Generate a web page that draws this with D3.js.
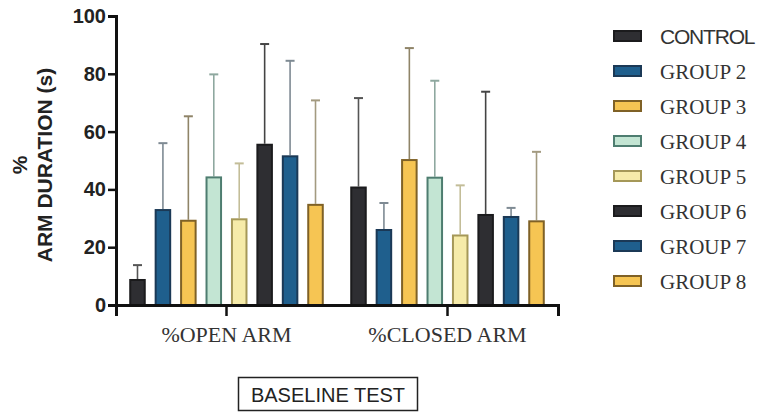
<!DOCTYPE html>
<html>
<head>
<meta charset="utf-8">
<script src="https://cdn.jsdelivr.net/npm/d3@7"></script>
<style>
  body { margin: 0; background: #fff; }
  svg { display: block; }
</style>
</head>
<body>
<div id="chart"></div>
<script>
// data
var categories = ['%OPEN ARM', '%CLOSED ARM'];
var groups = ['CONTROL', 'GROUP 2', 'GROUP 3', 'GROUP 4', 'GROUP 5', 'GROUP 6', 'GROUP 7', 'GROUP 8'];

// means, one array per category, in group order
var openMeans   = [9, 33.2, 29.5, 44.5, 30, 55.8, 51.8, 35];
var closedMeans = [41, 26.3, 50.5, 44.4, 24.4, 31.5, 30.8, 29.3];

// top of the (one sided) error bar
var openErrTop   = [13.8, 56, 65.3, 79.8, 49, 90.3, 84.5, 70.8];
var closedErrTop = [71.6, 35.3, 88.9, 77.6, 41.4, 73.8, 33.6, 53];

var yTicks = [0, 20, 40, 60, 80, 100];

var fills   = ['#2e2e32', '#1f5f8d', '#f6c553', '#c3e5d3', '#f6eba9', '#2e2e32', '#1f5f8d', '#f6c553'];
var strokes = ['#1b1b1d', '#1b3956', '#7f6126', '#4e7d70', '#a59858', '#1b1b1d', '#1b3956', '#7f6126'];
var errCols = ['#555', '#7e8a93', '#8f8468', '#8ea89f', '#c3bd98', '#444', '#7e8a93', '#a39a80'];

var width = 758;
var height = 413;

var svg = d3.select('#chart')
  .append('svg')
  .attr('width', width)
  .attr('height', height)
  ;

svg.append('rect')
  .attr('width', width)
  .attr('height', height)
  .attr('fill', '#fff');

var pad = { left: 116, right: 200, top: 16, bottom: 108 };

var y_scale = d3.scaleLinear()
  .domain([0, 100])
  .range([height - pad.bottom, pad.top])
  ;

var x0 = d3.scaleBand()
  .domain(categories)
  .range([pad.left, width - pad.right])
  .padding(0)
  ;

var x1 = d3.scaleBand()
  .domain(groups)
  .range([0, x0.bandwidth()])
  .paddingInner(0.35)
  .paddingOuter(0.52)
  ;

var rows = [];
categories.forEach(function(c, ci){
  var means = ci === 0 ? openMeans : closedMeans;
  var tops = ci === 0 ? openErrTop : closedErrTop;
  groups.forEach(function(g, gi){
    rows.push({ cat: c, group: g, gi: gi, value: means[gi], top: tops[gi] });
  });
});

var bw = x1.bandwidth();

// error bars first so the bars sit over them
var err = svg.append('g')
  .selectAll('g')
  .data(rows)
  .enter()
  .append('g')
  .attr('stroke', function(d){ return errCols[d.gi]; })
  .attr('stroke-width', 1.6)
  ;

err.append('line')
  .attr('x1', function(d){ return x0(d.cat) + x1(d.group) + bw / 2; })
  .attr('x2', function(d){ return x0(d.cat) + x1(d.group) + bw / 2; })
  .attr('y1', function(d){ return y_scale(d.value); })
  .attr('y2', function(d){ return y_scale(d.top); })
  ;

err.append('line')
  .attr('x1', function(d){ return x0(d.cat) + x1(d.group) + bw / 2 - 4.5; })
  .attr('x2', function(d){ return x0(d.cat) + x1(d.group) + bw / 2 + 4.5; })
  .attr('y1', function(d){ return y_scale(d.top); })
  .attr('y2', function(d){ return y_scale(d.top); })
  .attr('stroke-width', 2)
  ;

svg.append('g')
  .selectAll('rect')
  .data(rows)
  .enter()
  .append('rect')
  .attr('x', function(d){ return x0(d.cat) + x1(d.group) + 1; })
  .attr('y', function(d){ return y_scale(d.value) + 1; })
  .attr('width', bw - 2)
  .attr('height', function(d){ return y_scale(0) - y_scale(d.value) - 1; })
  .attr('fill', function(d){ return fills[d.gi]; })
  .attr('stroke', function(d){ return strokes[d.gi]; })
  .attr('stroke-width', 2)
  ;

// y axis
var yAxis = svg.append('g')
  .attr('transform', 'translate(' + pad.left + ',0)')
  .call(d3.axisLeft(y_scale).tickValues(yTicks).tickSize(8).tickPadding(2))
  ;
yAxis.selectAll('text')
  .attr('font-family', 'Liberation Sans, Arial, sans-serif')
  .attr('font-weight', 'bold')
  .attr('font-size', 20)
  .attr('fill', '#222')
  ;

// x axis
var xAxis = svg.append('g')
  .attr('transform', 'translate(0,' + y_scale(0) + ')')
  .call(d3.axisBottom(x0).tickSize(11).tickPadding(10))
  ;
xAxis.selectAll('text')
  .attr('font-family', 'Liberation Serif, Times New Roman, serif')
  .attr('font-size', 22)
  .attr('fill', '#333')
  ;

svg.selectAll('.domain')
  .attr('stroke', '#111')
  .attr('stroke-width', 3)
  ;
svg.selectAll('.tick line')
  .attr('stroke', '#111')
  .attr('stroke-width', 2.5)
  ;

// axis title
var yt = svg.append('text')
  .attr('transform', 'translate(27,165) rotate(-90)')
  .attr('text-anchor', 'middle')
  .attr('font-family', 'Liberation Sans, Arial, sans-serif')
  .attr('font-weight', 'bold')
  .attr('font-size', 21)
  .attr('fill', '#222')
  ;
yt.append('tspan').attr('x', 0).attr('dy', 0).text('%');
yt.append('tspan').attr('x', 0).attr('dy', 25).text('ARM DURATION (s)');

// legend
var legend = svg.append('g')
  .selectAll('g')
  .data(groups)
  .enter()
  .append('g')
  .attr('transform', function(d, i){ return 'translate(613,' + (36 + i * 35) + ')'; })
  ;

legend.append('rect')
  .attr('x', 1)
  .attr('y', -5)
  .attr('width', 27)
  .attr('height', 10)
  .attr('fill', function(d, i){ return fills[i]; })
  .attr('stroke', function(d, i){ return strokes[i]; })
  .attr('stroke-width', 2)
  ;

legend.append('text')
  .attr('x', 47)
  .attr('y', 7.5)
  .attr('font-family', function(d, i){ return i === 0 ? 'Liberation Sans, Arial, sans-serif' : 'Liberation Serif, Times New Roman, serif'; })
  .attr('font-size', 21)
  .attr('letter-spacing', function(d, i){ return i === 0 ? -1.2 : 0; })
  .attr('fill', '#333')
  .text(function(d){ return d; })
  ;

// caption box
svg.append('rect')
  .attr('x', 238.5)
  .attr('y', 377.5)
  .attr('width', 179)
  .attr('height', 33)
  .attr('fill', 'none')
  .attr('stroke', '#222')
  .attr('stroke-width', 1.5)
  ;

svg.append('text')
  .attr('x', 328)
  .attr('y', 402)
  .attr('text-anchor', 'middle')
  .attr('font-family', 'Liberation Sans, Arial, sans-serif')
  .attr('font-size', 20)
  .attr('fill', '#222')
  .text('BASELINE TEST')
  ;
</script>
</body>
</html>
